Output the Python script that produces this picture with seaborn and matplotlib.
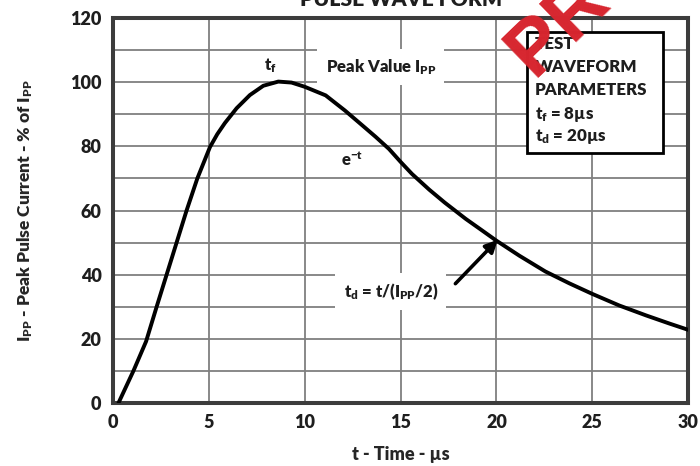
import numpy as np
import pandas as pd
import matplotlib
matplotlib.use("Agg")
import matplotlib.pyplot as plt
from matplotlib.patches import Rectangle
import seaborn as sns

# values (t in us, current in % of Ipp)
time_us = [0.3, 1.08, 1.74, 2.29, 2.81, 3.33, 3.85, 4.41, 5.07, 5.45, 5.85, 6.46,
           7.15, 7.85, 8.63, 9.32, 10.0, 11.1, 12.1, 13.0, 13.7, 14.4, 15.0, 15.6,
           16.5, 17.3, 18.4, 19.25, 20.0, 21.2, 22.55, 23.8, 25.0, 26.4, 27.8, 29.0,
           30.0]
current_pct = [0, 10.0, 19.2, 30.0, 40.0, 50.0, 60.0, 70.0, 79.8, 83.8, 87.3, 91.9,
               96.0, 98.9, 100.2, 99.9, 98.6, 95.9, 91.2, 86.6, 83.0, 79.2, 75.2, 71.4,
               66.5, 62.5, 57.4, 53.8, 50.6, 45.9, 41.0, 37.3, 34.0, 30.4, 27.3, 24.8,
               22.8]

x_ticks = [0, 5, 10, 15, 20, 25, 30]
y_ticks = [0, 20, 40, 60, 80, 100, 120]
y_grid = [10, 30, 50, 70, 90, 110]

params_lines = ["TEST", "WAVEFORM", "PARAMETERS", r"t$_\mathrm{f}$ = 8µs", r"t$_\mathrm{d}$ = 20µs"]
params_y = [111.9, 104.7, 97.5, 90.0, 83.1]

df = pd.DataFrame({"t": time_us, "i": current_pct})

sns.set_style("white")
plt.rcParams["font.family"] = ["Lato", "DejaVu Sans"]
plt.rcParams["font.weight"] = "heavy"
plt.rcParams["mathtext.fontset"] = "custom"
plt.rcParams["mathtext.rm"] = "Lato:heavy"
plt.rcParams["mathtext.it"] = "Lato:heavy"
plt.rcParams["mathtext.bf"] = "Lato:heavy"
plt.rcParams["text.color"] = "#1e1e1e"

fig = plt.figure(figsize=(7, 4.66), dpi=100)
ax = fig.add_axes([0.161, 0.1352, 0.8223, 0.826])

sns.lineplot(data=df, x="t", y="i", color="black", lw=2.8, ax=ax, zorder=5)

ax.set_xlim(0, 30)
ax.set_ylim(0, 120)
ax.set_xticks(x_ticks)
ax.set_yticks(y_ticks)
ax.set_yticks(y_grid, minor=True)
ax.tick_params(which="both", length=0, labelsize=13, pad=8, labelcolor="#1e1e1e")
for lab in ax.get_xticklabels() + ax.get_yticklabels():
    lab.set_fontweight("heavy")
ax.grid(True, which="both", color="#7f7f7f", lw=1.3)
for s in ax.spines.values():
    s.set_color("#3c3c3c")
    s.set_linewidth(2.9)

ax.set_xlabel("t - Time - µs", fontsize=13, fontweight="heavy", labelpad=11)
ax.set_ylabel(r"I$_\mathrm{PP}$ - Peak Pulse Current - % of I$_\mathrm{PP}$",
              fontsize=12.5, fontweight="heavy", labelpad=25)

# annotations
ax.text(8.2, 105.3, r"t$_\mathrm{f}$", fontsize=12, ha="center", va="center")
ax.text(13.97, 104.7, r"Peak Value I$_\mathrm{PP}$", fontsize=12, ha="center", va="center",
        bbox=dict(facecolor="white", edgecolor="none", pad=6))
ax.text(12.46, 75.9, r"e$^{\mathrm{-t}}$", fontsize=12, ha="center", va="center")
ax.text(14.5, 34.8, r"t$_\mathrm{d}$ = t/(I$_\mathrm{PP}$/2)", fontsize=12, ha="center",
        va="center", bbox=dict(facecolor="white", edgecolor="none", pad=6))
ax.annotate("", xy=(20.07, 50.9), xytext=(17.86, 37.2),
            arrowprops=dict(arrowstyle="-|>", color="black", lw=2.6, mutation_scale=18,
                            shrinkA=0, shrinkB=0),
            zorder=6)

# parameter box
ax.add_patch(Rectangle((21.6, 78.0), 7.08, 37.8, facecolor="white", edgecolor="black",
                       lw=2.0, zorder=7))
for line, yy in zip(params_lines, params_y):
    ax.text(22.0, yy, line, fontsize=12.2, ha="left", va="center", zorder=8)

# title, cut by the top edge
fig.text(0.573, 0.987, "PULSE WAVE FORM", fontsize=15.2, fontweight="heavy",
         ha="center", va="baseline")

# red watermark, mostly outside the picture
fig.text(0.765, 0.826, "PRODUCT PREVIEW", fontsize=56, fontweight="bold", color="#d7262f",
         family="Liberation Sans", rotation=44, rotation_mode="anchor",
         ha="left", va="baseline", zorder=10)

fig.savefig("out.png", dpi=100)
